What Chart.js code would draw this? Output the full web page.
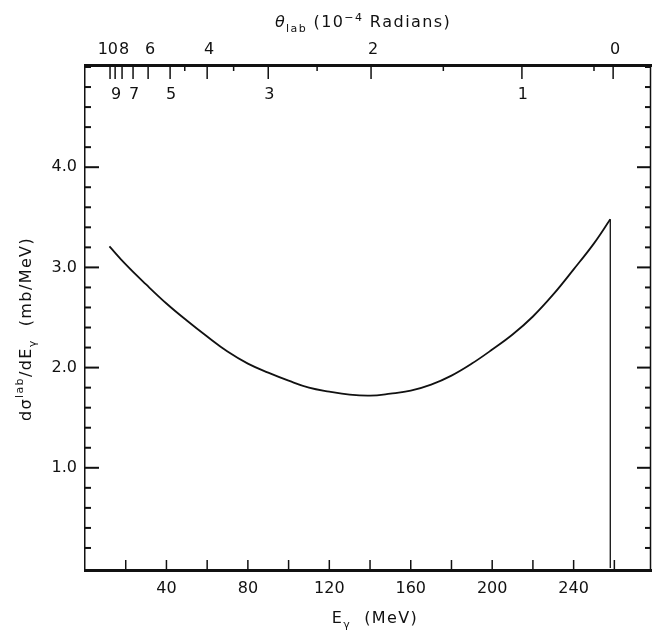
<!DOCTYPE html>
<html><head><meta charset="utf-8">
<script src="https://cdn.jsdelivr.net/npm/chart.js@4"></script>
<style>html,body{margin:0;padding:0;background:#fff}#wrap{width:652px;height:632px;position:relative}</style>
</head><body><div id="wrap"><canvas id="c"></canvas></div>
<script>
// photon energy (MeV) and lab cross section dσ/dE (mb/MeV)
const energyMeV    = [12, 20, 30, 40, 50, 60, 70, 80, 90, 100, 110, 120, 130, 140, 150, 160, 170, 180, 190, 200, 210, 220, 230, 240, 250, 258];
const crossSection = [3.21, 3.03, 2.83, 2.64, 2.47, 2.31, 2.16, 2.04, 1.95, 1.87, 1.80, 1.76, 1.73, 1.72, 1.74, 1.77, 1.83, 1.92, 2.04, 2.18, 2.33, 2.51, 2.73, 2.98, 3.24, 3.48];
// kinematic end point drop
const edgeEnergy = [258, 258];
const edgeValue  = [3.48, 0];

// bottom axis
const xTickValues  = [20, 40, 60, 80, 100, 120, 140, 160, 180, 200, 220, 240, 260];
const xLabelValues = [40, 80, 120, 160, 200, 240];
// left axis
const yTickValues  = [0.2,0.4,0.6,0.8,1.0,1.2,1.4,1.6,1.8,2.0,2.2,2.4,2.6,2.8,3.0,3.2,3.4,3.6,3.8,4.0,4.2,4.4,4.6,4.8,5.0];
const yLabelValues = [1.0, 2.0, 3.0, 4.0];
// top axis: theta_lab (1e-4 rad) and the photon energy it sits at
const thetaLabels  = ['0', '1', '2', '3', '4', '5', '6', '7', '8', '9', '10'];
const thetaEnergy  = [259.4, 214.6, 140.5, 90, 60, 41.8, 31, 23.6, 18.2, 14.8, 12.3];
const thetaHalfEnergy = [250, 176, 114, 73, 49];

const FONT = '"DejaVu Sans", sans-serif';
const SPACING = 1.4;

function drawRich(ctx, segs, x, y) {
  let total = 0;
  segs.forEach(s => {
    ctx.font = s.font;
    s.w = 0;
    for (const ch of s.t) s.w += ctx.measureText(ch).width + SPACING;
    total += s.w;
  });
  let cx = x - total / 2;
  ctx.textAlign = 'left';
  ctx.textBaseline = 'alphabetic';
  segs.forEach(s => {
    ctx.font = s.font;
    for (const ch of s.t) {
      ctx.fillText(ch, cx, y + (s.dy || 0));
      cx += ctx.measureText(ch).width + SPACING;
    }
  });
}

const framePlugin = {
  id: 'frame',
  afterDraw(chart) {
    const ctx = chart.ctx, a = chart.chartArea;
    const xs = chart.scales.x, ys = chart.scales.y, xt = chart.scales.xTop;
    ctx.save();
    ctx.strokeStyle = '#111';
    ctx.fillStyle = '#111';
    // right border
    ctx.lineWidth = 1.5;
    ctx.beginPath(); ctx.moveTo(a.right - 0.5, a.top); ctx.lineTo(a.right - 0.5, a.bottom); ctx.stroke();
    // left & right inward ticks
    ctx.lineWidth = 2;
    yTickValues.forEach(v => {
      const py = ys.getPixelForValue(v);
      const major = yLabelValues.some(l => Math.abs(l - v) < 1e-6);
      const len = major ? 14 : 6;
      ctx.beginPath(); ctx.moveTo(a.left, py); ctx.lineTo(a.left + len, py); ctx.stroke();
      ctx.beginPath(); ctx.moveTo(a.right, py); ctx.lineTo(a.right - len, py); ctx.stroke();
    });
    // bottom inward ticks
    ctx.lineWidth = 1.5;
    xTickValues.forEach(v => {
      const px = xs.getPixelForValue(v);
      ctx.beginPath(); ctx.moveTo(px, a.bottom); ctx.lineTo(px, a.bottom - 10); ctx.stroke();
    });
    // top inward ticks
    thetaEnergy.forEach(v => {
      const px = xt.getPixelForValue(v);
      ctx.beginPath(); ctx.moveTo(px, a.top); ctx.lineTo(px, a.top + 14); ctx.stroke();
    });
    thetaHalfEnergy.forEach(v => {
      const px = xt.getPixelForValue(v);
      ctx.beginPath(); ctx.moveTo(px, a.top); ctx.lineTo(px, a.top + 6); ctx.stroke();
    });
    // theta labels: even above the axis, odd inside the frame
    ctx.font = '16px ' + FONT;
    ctx.textBaseline = 'middle';
    thetaLabels.forEach((t, i) => {
      const px = xt.getPixelForValue(thetaEnergy[i]);
      if (i % 2 === 1) {
        ctx.textAlign = 'center';
        ctx.fillText(t, px + 1, a.top + 30);
      } else if (t.length > 1) {
        ctx.textAlign = 'right';
        ctx.fillText(t, px + 8, a.top - 15);
      } else {
        ctx.textAlign = 'center';
        ctx.fillText(t, px + 2, a.top - 15);
      }
    });
    // titles
    const big = '16px ' + FONT, small = '11px ' + FONT;
    drawRich(ctx, [
      {t: 'θ', font: 'italic 16px ' + FONT},
      {t: 'lab', font: small, dy: 5},
      {t: ' (10', font: big},
      {t: '−4', font: small, dy: -6},
      {t: ' Radians)', font: big}
    ], 363, 27);
    drawRich(ctx, [
      {t: 'E', font: big},
      {t: 'γ', font: small, dy: 5},
      {t: '  (MeV)', font: big}
    ], 375, 623);
    ctx.save();
    ctx.translate(31, 329);
    ctx.rotate(-Math.PI / 2);
    drawRich(ctx, [
      {t: 'dσ', font: big},
      {t: 'lab', font: small, dy: -8},
      {t: '/dE', font: big},
      {t: 'γ', font: small, dy: 5},
      {t: '  (mb/MeV)', font: big}
    ], 0, 0);
    ctx.restore();
    ctx.restore();
  }
};

new Chart(document.getElementById('c'), {
  type: 'line',
  data: {
    datasets: [
      {
        data: energyMeV.map((e, i) => ({x: e, y: crossSection[i]})),
        borderColor: '#111', borderWidth: 1.8, pointRadius: 0,
        tension: 0.4, fill: false
      },
      {
        data: edgeEnergy.map((e, i) => ({x: e, y: edgeValue[i]})),
        borderColor: '#111', borderWidth: 1.3, pointRadius: 0, tension: 0, fill: false
      }
    ]
  },
  options: {
    responsive: true, maintainAspectRatio: false, animation: false,
    devicePixelRatio: 1,
    layout: {padding: {left: 0, right: 1, top: 0, bottom: 0}},
    plugins: {legend: {display: false}, tooltip: {enabled: false}},
    scales: {
      x: {
        type: 'linear', position: 'bottom', min: 0, max: 278,
        afterBuildTicks: s => { s.ticks = xTickValues.map(v => ({value: v})); },
        afterFit: s => { s.height = 62; },
        grid: {display: false, drawTicks: false},
        border: {display: true, width: 3, color: '#111'},
        ticks: {
          autoSkip: false, maxRotation: 0, padding: 9, color: '#111',
          font: {family: FONT, size: 16},
          callback: v => xLabelValues.includes(v) ? String(v) : ''
        }
      },
      xTop: {
        type: 'linear', position: 'top', min: 0, max: 278,
        afterBuildTicks: s => { s.ticks = thetaEnergy.map(v => ({value: v})); },
        afterFit: s => { s.height = 65; },
        grid: {display: false, drawTicks: false},
        border: {display: true, width: 3, color: '#111'},
        ticks: {display: false}
      },
      y: {
        type: 'linear', position: 'left', min: -0.02, max: 5.02,
        afterBuildTicks: s => { s.ticks = yTickValues.map(v => ({value: v})); },
        afterFit: s => { s.width = 85; },
        grid: {display: false, drawTicks: false},
        border: {display: true, width: 1.5, color: '#111'},
        ticks: {
          autoSkip: false, padding: 8, color: '#111',
          font: {family: FONT, size: 16},
          callback: v => yLabelValues.some(l => Math.abs(l - v) < 1e-6) ? v.toFixed(1) : ''
        }
      }
    }
  },
  plugins: [framePlugin]
});
</script>
</body></html>
